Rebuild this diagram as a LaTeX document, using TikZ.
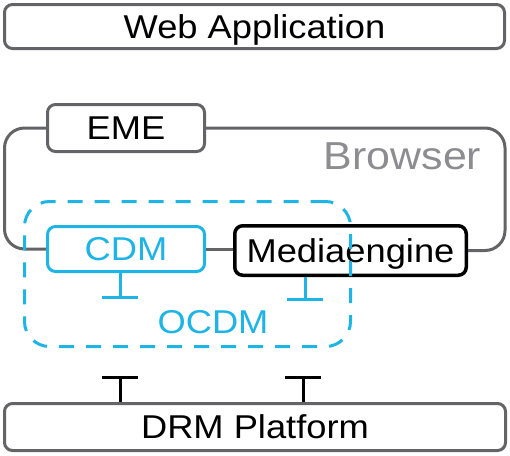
\documentclass[tikz,border=0pt]{standalone}
\usepackage{fontspec}
\setmainfont[FakeStretch=1.1]{Liberation Sans}
\usetikzlibrary{arrows.meta,positioning}
\definecolor{boxgray}{RGB}{100,100,104}
\definecolor{labelgray}{RGB}{140,140,145}
\definecolor{ocdmblue}{RGB}{30,180,230}
\tikzstyle{layer} = [draw=boxgray, line width=3pt, rounded corners=8pt, text height=23.6pt, text depth=0pt, font=\fontsize{33}{38}\selectfont]
\tikzstyle{block} = [layer, minimum width=157pt]
\tikzstyle{cdm} = [block, draw=ocdmblue, text=ocdmblue]
\tikzstyle{engine} = [block, draw=black, line width=3.5pt]
\tikzstyle{link} = [draw=boxgray, line width=3pt]
\tikzstyle{tee} = [line width=3pt, -{Bar[width=36pt]}]

\begin{document}
\begin{tikzpicture}[x=1pt,y=-1pt]
	\useasboundingbox (0,0) rectangle (510,455);
	% the layers above and below the browser
	\node [layer,minimum width=500pt,minimum height=44pt] (webapp) at (254.5,26.5) {Web Application};
	\node [layer,minimum width=501pt,minimum height=47pt] (drm) at (255,427) {DRM Platform};

	% blocks inside the browser
	\node [block,minimum height=47pt] (eme) at (126,128) {EME};
	\node [cdm,minimum height=45pt] (cdm) at (126,249) {CDM};
	\node [engine,minimum width=231.5pt,minimum height=49.5pt] (engine) at (350.5,250.5) {Mediaengine};
	\node [text=labelgray,font=\fontsize{39}{44}\selectfont,text height=27.9pt,text depth=0pt] (browser) at (402.5,156) {Browser};

	% browser outline
	\coordinate (bl) at (4.5,128);
	\coordinate (br) at (505,128);
	\draw [link,rounded corners=20pt] (eme.west) -- (bl) |- (cdm.west);
	\draw [link] (cdm.east) -- (cdm.east -| engine.west);
	\draw [link,rounded corners=20pt] (engine.east) -| (br) -- (eme.east);

	% ocdm
	\node [draw=ocdmblue,line width=3pt,dash pattern=on 15pt off 12pt,rounded corners=25pt,minimum width=326pt,minimum height=145pt] (ocdmbox) at (187.5,274) {};
	\node [text=ocdmblue,font=\fontsize{33}{38}\selectfont,text height=23.6pt,text depth=0pt] (ocdm) at (213,322) {OCDM};
	\coordinate (cdmtee) at (120,299);
	\coordinate (enginetee) at (305,301);
	\draw [tee,ocdmblue] (cdmtee |- cdm.south) -- (cdmtee);
	\draw [tee,ocdmblue] (enginetee |- engine.south) -- (enginetee);

	% platform interfaces
	\coordinate (drmtee1) at (120,376);
	\coordinate (drmtee2) at (303,376);
	\draw [tee] (drmtee1 |- drm.north) -- (drmtee1);
	\draw [tee] (drmtee2 |- drm.north) -- (drmtee2);
\end{tikzpicture}
\end{document}
